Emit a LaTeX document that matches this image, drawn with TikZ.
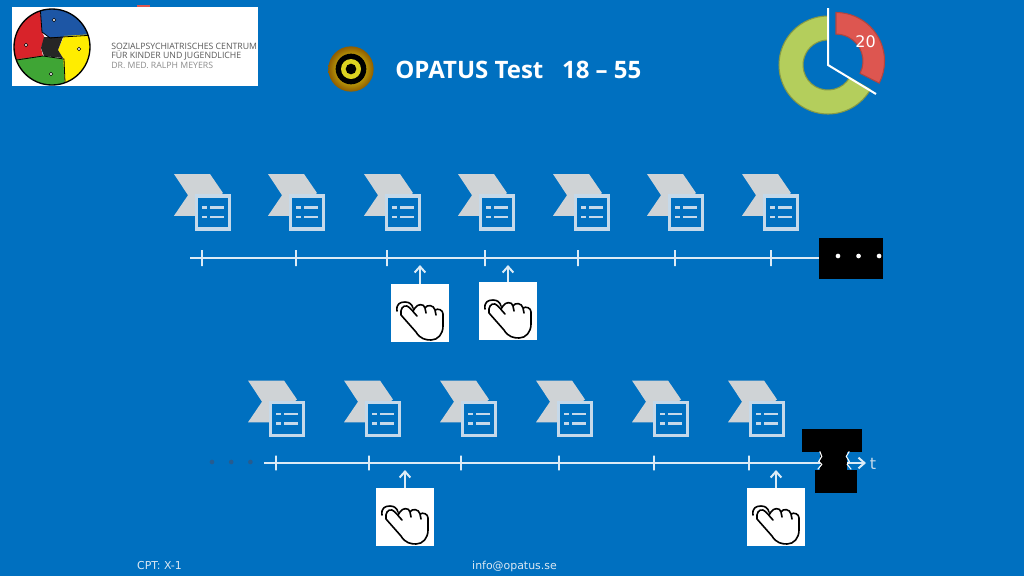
\documentclass[tikz,border=0pt]{standalone}
\usepackage{fontspec}
\setmainfont{Open Sans}
\newfontfamily\plainfont{DejaVu Sans}
\usepackage{tikz}
\usetikzlibrary{arrows.meta,positioning}

\definecolor{slidebg}{HTML}{0070C0}
\definecolor{iconline}{HTML}{C5D9EA}
\definecolor{chevgray}{HTML}{CFD3D6}
\definecolor{axisline}{HTML}{DCEBF6}
\definecolor{donutgreen}{HTML}{B4CE5C}
\definecolor{donutred}{HTML}{DD5650}
\definecolor{logored}{HTML}{D8232A}
\definecolor{logoblue}{HTML}{1D56A5}
\definecolor{logogreen}{HTML}{3FA535}
\definecolor{logoyellow}{HTML}{FFED00}
\definecolor{dimdot}{HTML}{265C90}

\tikzset{
	ticknode/.style={draw=axisline,line width=1pt,inner sep=0pt,minimum width=0pt,minimum height=12pt},
	axis/.style={draw=axisline,line width=1.5pt},
	handbox/.style={fill=white,inner sep=0pt,minimum size=43.5pt},
	blackbox/.style={fill=black,inner sep=0pt},
	dotnode/.style={circle,fill=#1,inner sep=0pt,minimum size=3.5pt},
	stimicon/.pic={
		\fill[chevgray] (-39,-38.5) -- (-3,-38.5) -- (10,-19.5) -- (-18,3.3) -- (-39,3.3) -- (-25,-17.3) -- cycle;
		\node[draw=iconline,fill=slidebg,line width=2.6pt,inner sep=0pt,minimum size=24.6pt] (box) {};
		\draw[iconline,line width=2.2pt] (-11,-5) -- (-6,-5) (-3,-5) -- (11,-5)
			(-11,4.5) -- (-6,4.5) (-3,4.5) -- (11,4.5);
	},
	handicon/.pic={
		\draw[black,line width=1.2pt,line cap=round,line join=round]
			(-23,-2) .. controls (-24,-9) and (-20,-11) .. (-15,-11) .. controls (-11,-11) and (-8,-9) .. (-7,-5)
			(-19,2) .. controls (-20,-4) and (-17,-8) .. (-13,-7) .. controls (-10,-6) and (-6,0) .. (-3,3)
			(-19,2) -- (-4,19) .. controls (0,26) and (6,27) .. (11,27) .. controls (18,27) and (23,21) .. (23,13)
			-- (23,1) .. controls (23,-3) and (18,-5) .. (15,-3) .. controls (14,-8) and (7,-9) .. (5,-5)
			.. controls (4,-10) and (-3,-9) .. (-5,-5) -- (-7,-2)
			(15,-3) -- (16,2) (5,-5) -- (6,0);
	}
}

\begin{document}
\begin{tikzpicture}[x=0.75pt,y=-0.75pt,>={Straight Barb[length=4.5pt,width=8pt]},font=\plainfont]
	\useasboundingbox (0,0) rectangle (1024,576);
	\fill[slidebg] (0,0) rectangle (1024,576);

	% logo
	\fill[donutred] (137,5) rectangle (150,7);
	\fill[white] (12,7) rectangle (258,86);
	\begin{scope}
		\clip (52,47) circle[radius=28.5pt];
		\fill[logored] (10,5) -- (40,5) -- (42,32) -- (45,38) -- (41,48) -- (43,56) -- (10,61) -- cycle;
		\fill[logoblue] (40,5) -- (95,5) -- (95,35) -- (62,37) -- (50,38) -- (42,32) -- cycle;
		\fill[logogreen] (10,60) -- (43,56) -- (64,59) -- (65,95) -- (10,95) -- cycle;
		\fill[logoyellow] (64,36) -- (95,34) -- (95,95) -- (65,82) -- (63,58) -- (58,50) -- cycle;
		\fill[black!85] (44,37) -- (63,37) -- (58,50) -- (63,58) -- (44,56) -- (41,48) -- cycle;
		\draw[black,line width=.6pt] (40,5) -- (42,32) -- (50,38) -- (62,37) -- (95,35)
			(10,61) -- (43,56) -- (64,59) -- (65,82) -- (70,95);
	\end{scope}
	\draw[black,line width=1pt] (52,47) circle[radius=28.5pt];
	\foreach \px/\py in {54/20,26/45,79/49,51/74}
		\draw[black,fill=white,line width=.4pt] (\px,\py) circle[radius=1.3pt];
	\node[anchor=west,inner sep=0pt,text=black!65,font=\rmfamily\fontsize{6.55}{6.55}\selectfont] (logoA) at (111,46) {SOZIALPSYCHIATRISCHES CENTRUM};
	\node[anchor=west,inner sep=0pt,text=black!65,font=\rmfamily\fontsize{6.55}{6.55}\selectfont] (logoB) at (111,55.5) {FÜR KINDER UND JUGENDLICHE};
	\node[anchor=west,inner sep=0pt,text=black!45,font=\rmfamily\fontsize{6.55}{6.55}\selectfont] (logoC) at (111,65) {DR. MED. RALPH MEYERS};

	% target and title
	\shade[inner color=yellow!90!white,outer color=yellow!45!black!80!red] (351,69) circle[radius=17pt];
	\fill[black] (351,69) circle[radius=11.5pt];
	\fill[yellow!85!black] (351,69) circle[radius=7.5pt];
	\fill[black] (351,69) circle[radius=4pt];
	\node[anchor=west,inner sep=0pt,text=white,font=\rmfamily\fontsize{18}{18}\bfseries\selectfont] (title) at (395,70) {OPATUS Test\ \ \ 18 – 55};

	% clock
	\fill[donutgreen,draw=donutgreen!75!black,line width=.8pt] (828,16) arc[start angle=90,end angle=330,radius=36.75pt]
		-- ++(-20.8,-12) arc[start angle=330,end angle=90,radius=18.75pt] -- cycle;
	\fill[donutred,draw=donutred!80!black,line width=.8pt] (836,12.5) arc[start angle=90,end angle=-27,radius=36.4pt]
		-- ++(-19.2,-9.7) arc[start angle=-27,end angle=90,radius=20.25pt] -- cycle;
	\coordinate (handA) at (828,8);
	\coordinate (pivot) at (828,65);
	\coordinate (handB) at (876,94);
	\draw[white,line width=1.5pt] (handA) -- (pivot) -- (handB);
	\node[text=white,inner sep=0pt,font=\plainfont\fontsize{12}{12}\selectfont] (count) at (865.5,42) {20};

	% first line
	\node[blackbox,minimum width=48pt,minimum height=30.75pt] (gapA) at (851,258.5) {};
	\node[dotnode=white] (dotA1) at (838,256) {};
	\node[dotnode=white] (dotA2) [right=11.5pt of dotA1] {};
	\node[dotnode=white] (dotA3) [right=11.5pt of dotA2] {};
	\coordinate (startA) at (190,258);
	\draw[axis] (startA) -- (gapA.west |- startA);

	\node[ticknode] (TA1) at (202,258) {};
	\node[ticknode] (TA2) at (296,258) {};
	\node[ticknode] (TA3) at (387,258) {};
	\node[ticknode] (TA4) at (485,258) {};
	\node[ticknode] (TA5) at (578,258) {};
	\node[ticknode] (TA6) at (675,258) {};
	\node[ticknode] (TA7) at (771,258) {};

	\pic (SA1) at (213,212.5) {stimicon};
	\pic (SA2) at ([xshift=70.5pt]SA1box) {stimicon};
	\pic (SA3) at ([xshift=72pt]SA2box) {stimicon};
	\pic (SA4) at ([xshift=70.5pt]SA3box) {stimicon};
	\pic (SA5) at ([xshift=71.25pt]SA4box) {stimicon};
	\pic (SA6) at ([xshift=70.5pt]SA5box) {stimicon};
	\pic (SA7) at ([xshift=71.25pt]SA6box) {stimicon};

	\node[handbox] (HA1) at (420,313) {};
	\node[handbox] (HA2) at (508,311) {};
	\pic at (HA1) {handicon};
	\pic at (HA2) {handicon};
	\coordinate (RA1) at (420,265);
	\coordinate (RA2) at (508,265);
	\draw[->,axis] (HA1.north) -- (RA1);
	\draw[->,axis] (HA2.north) -- (RA2);

	% second line
	\node[blackbox,minimum width=45pt,minimum height=17.25pt] (gapT) at (832,440.5) {};
	\node[blackbox,minimum width=31.5pt,minimum height=17.25pt] (gapB) at (836,481.5) {};
	\node[blackbox,minimum width=20.25pt,minimum height=14pt] (gapM) at (833.5,461) {};
	\node[dotnode=dimdot] (dotB1) at (212,462) {};
	\node[dotnode=dimdot] (dotB2) [right=10.5pt of dotB1] {};
	\node[dotnode=dimdot] (dotB3) [right=10.5pt of dotB2] {};
	\node[text=iconline,inner sep=0pt,font=\plainfont\fontsize{12}{12}\selectfont] (tlabel) at (873,464) {t};
	\coordinate (startB) at (264,463);
	\coordinate (endB) at (866,463);
	\draw[axis] (startB) -- (gapM.west |- startB);
	\draw[->,axis] (gapM.east |- endB) -- (endB);
	\draw[white,line width=.8pt] (gapM.north west) -- ++(2,5) -- ++(-3,5) -- ++(3,3) -- ++(-4,5)
		(gapM.north east) ++(2,0) -- ++(-3,5) -- ++(3,5) -- ++(-2,3) -- ++(4,5);

	\node[ticknode,minimum height=11pt] (TB1) at (276,463) {};
	\node[ticknode,minimum height=11pt] (TB2) at (369,463) {};
	\node[ticknode,minimum height=11pt] (TB3) at (461,463) {};
	\node[ticknode,minimum height=11pt] (TB4) at (559,463) {};
	\node[ticknode,minimum height=11pt] (TB5) at (654,463) {};
	\node[ticknode,minimum height=11pt] (TB6) at (749,463) {};

	\pic (SB1) at (287,419) {stimicon};
	\pic (SB2) at ([xshift=72pt]SB1box) {stimicon};
	\pic (SB3) at ([xshift=72pt]SB2box) {stimicon};
	\pic (SB4) at ([xshift=72pt]SB3box) {stimicon};
	\pic (SB5) at ([xshift=72pt]SB4box) {stimicon};
	\pic (SB6) at ([xshift=72pt]SB5box) {stimicon};

	\node[handbox] (HB1) at (405,517) {};
	\node[handbox] (HB2) at (776,517) {};
	\pic at (HB1) {handicon};
	\pic at (HB2) {handicon};
	\coordinate (RB1) at (405,470);
	\coordinate (RB2) at (776,470);
	\draw[->,axis] (HB1.north) -- (RB1);
	\draw[->,axis] (HB2.north) -- (RB2);

	% footer
	\node[text=iconline!60!white,inner sep=0pt,font=\plainfont\fontsize{8.2}{8.2}\selectfont] (cpt) at (159.5,566) {CPT: X-1};
	\node[text=iconline!60!white,inner sep=0pt,font=\plainfont\fontsize{8.2}{8.2}\selectfont] (mail) at (514.5,566) {info@opatus.se};
\end{tikzpicture}
\end{document}
